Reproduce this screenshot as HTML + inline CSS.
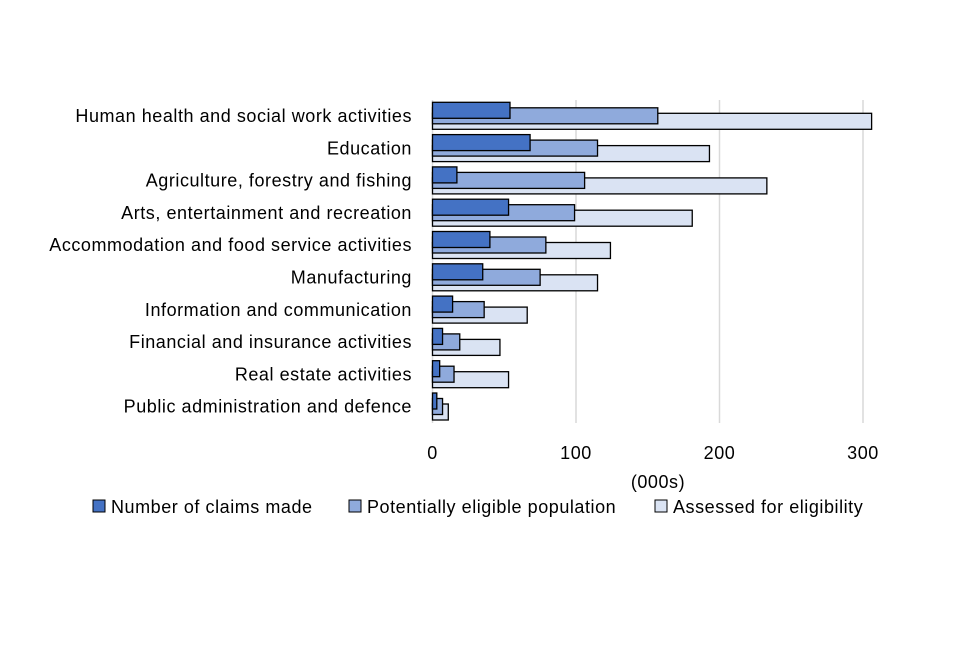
<!DOCTYPE html>
<html><head><meta charset="utf-8"><style>
body{margin:0;background:#fff;}
svg text{font-family:"Liberation Sans",sans-serif;fill:#000;letter-spacing:0.55px;}
</style></head><body>
<svg id="c" width="960" height="640"></svg>
<script>
const categories=["Human health and social work activities","Education","Agriculture, forestry and fishing","Arts, entertainment and recreation","Accommodation and food service activities","Manufacturing","Information and communication","Financial and insurance activities","Real estate activities","Public administration and defence"];
const claims=[54,68,17,53,40,35,14,7,5,3];
const eligible=[157,115,106,99,79,75,36,19,15,7];
const assessed=[306,193,233,181,124,115,66,47,53,11];
const ticks=[0,100,200,300];
const seriesNames=["Number of claims made","Potentially eligible population","Assessed for eligibility"];
const colors=["#4472c4","#8faadc","#dae3f3"];
const NS="http://www.w3.org/2000/svg";
const svg=document.getElementById('c');
const x0=432.5,pxPer=1.435,plotTop=100,pitch=32.3,bh=16,off=5.5;
const X=v=>x0+v*pxPer;
function mk(t,a,txt){const e=document.createElementNS(NS,t);for(const k in a)e.setAttribute(k,a[k]);if(txt!=null)e.textContent=txt;svg.appendChild(e);return e;}
ticks.forEach((t,i)=>{
 if(i>0){const g=mk('line',{x1:X(t),x2:X(t),y1:plotTop,y2:423,stroke:'#d9d9d9','stroke-width':1.5});
 
 }
 const l=mk('text',{x:X(t),y:459,'font-size':18,'text-anchor':'middle'},t);
 
 
});
const ax=mk('line',{x1:x0,x2:x0,y1:plotTop,y2:423,stroke:'#d9d9d9','stroke-width':1.5});


const series=[claims,eligible,assessed];
categories.forEach((c,i)=>{
 const y=plotTop+i*pitch+2.3;
 for(let s=2;s>=0;s--){
  const r=mk('rect',{x:x0,y:y+s*off,width:X(series[s][i])-x0,height:bh,fill:colors[s],stroke:'#000','stroke-width':1.3});
  
  
 }
 const t=mk('text',{x:412,y:plotTop+i*pitch+22,'font-size':18,'text-anchor':'end'},c);
 
 
});
const at=mk('text',{x:658,y:488,'font-size':18,'text-anchor':'middle'},'(000s)');


const lx=[93,349,655];
seriesNames.forEach((n,i)=>{
 const r=mk('rect',{x:lx[i],y:500,width:12,height:12,fill:colors[i],stroke:'#000','stroke-width':1});
 
 
 const t=mk('text',{x:lx[i]+18,y:513,'font-size':18},n);
 
 
});
</script>
</body></html>
